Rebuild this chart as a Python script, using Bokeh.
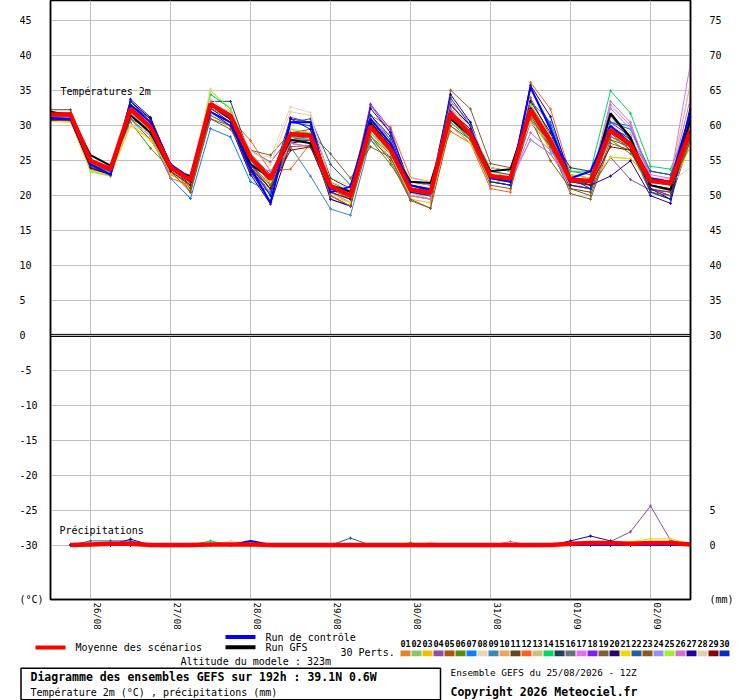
from bokeh.plotting import figure
from bokeh.models import Range1d, LinearAxis, FixedTicker, Span, Label
from bokeh.layouts import column
from bokeh.embed import file_html
from bokeh.resources import INLINE
from bokeh.core.properties import value

# ---------------- data ----------------
hours = [0, 6, 12, 18, 24, 30, 36, 42, 48, 54, 60, 66, 72, 78, 84, 90, 96,
         102, 108, 114, 120, 126, 132, 138, 144, 150, 156, 162, 168, 174, 180, 186, 192]
precip_hours = hours[1:]
day_ticks = [12, 36, 60, 84, 108, 132, 156, 180]
day_labels = ["26/08", "27/08", "28/08", "29/08", "30/08", "31/08", "01/09", "02/09"]
temp_ticks = [-30, -25, -20, -15, -10, -5, 0, 5, 10, 15, 20, 25, 30, 35, 40, 45]
right_ticks = [0, 5, 30, 35, 40, 45, 50, 55, 60, 65, 70, 75]

member_names = ["01", "02", "03", "04", "05", "06", "07", "08", "09", "10",
                "11", "12", "13", "14", "15", "16", "17", "18", "19", "20",
                "21", "22", "23", "24", "25", "26", "27", "28", "29", "30"]
member_colors = ["#e8812e", "#88c46a", "#f0c000", "#8a4fa8", "#b0500a", "#5a8a0a",
                 "#0a80ff", "#e8d8b0", "#3a8ab8", "#e8a858", "#604820", "#ff6020",
                 "#d0c080", "#00d860", "#204058", "#687078", "#e070f0", "#8020f0",
                 "#806030", "#300070", "#f0d800", "#2060a0", "#905820", "#9890f0",
                 "#a0f030", "#d070d0", "#2000a0", "#e0d0b0", "#880000", "#0030c0"]

temp_m01 = [31.2, 31.0, 24.2, 23.0, 32.5, 29.0, 23.5, 21.5, 33.5, 31.5, 25.8, 21.5, 28.0, 28.5, 21.0, 19.5, 30.0, 27.0, 21.0, 20.5, 32.0, 29.0, 22.5, 22.0, 33.0, 27.5, 22.0, 21.8, 29.0, 27.0, 22.0, 21.5, 30.0]
temp_m02 = [31.5, 31.3, 23.6, 22.8, 31.8, 28.8, 23.0, 21.8, 34.5, 32.5, 25.0, 22.5, 29.5, 29.0, 20.5, 19.0, 29.5, 26.0, 20.5, 20.0, 31.5, 28.0, 22.0, 21.5, 32.0, 28.0, 22.5, 22.0, 28.5, 26.5, 21.5, 21.0, 29.0]
temp_m03 = [30.8, 30.6, 24.0, 23.2, 30.2, 28.0, 23.2, 21.0, 32.0, 30.5, 24.5, 21.0, 27.5, 27.0, 20.8, 19.8, 28.5, 25.5, 19.5, 19.0, 30.5, 28.5, 23.5, 22.5, 32.5, 27.0, 22.0, 21.5, 25.5, 25.3, 22.5, 22.0, 27.5]
temp_m04 = [31.6, 31.4, 24.8, 23.5, 32.8, 30.0, 24.0, 22.5, 33.0, 31.5, 26.5, 24.8, 28.5, 27.5, 21.5, 20.5, 33.0, 29.0, 21.5, 21.0, 32.5, 28.5, 22.5, 22.0, 31.0, 27.0, 21.5, 21.0, 25.5, 22.3, 20.8, 20.5, 28.0]
temp_m05 = [31.9, 31.8, 24.5, 23.0, 31.0, 29.5, 24.5, 20.5, 31.5, 30.0, 23.5, 20.5, 29.0, 29.5, 20.0, 18.5, 31.0, 27.5, 21.5, 20.5, 33.0, 30.0, 23.0, 22.0, 34.0, 28.5, 22.5, 22.0, 30.0, 27.5, 21.0, 20.0, 30.5]
temp_m06 = [31.0, 31.2, 24.5, 23.3, 30.5, 26.8, 23.8, 22.0, 32.5, 31.0, 24.0, 21.0, 27.8, 28.0, 22.0, 20.5, 28.0, 24.5, 20.0, 19.5, 31.0, 28.5, 24.0, 23.5, 31.5, 26.5, 23.5, 23.0, 28.0, 26.0, 22.5, 22.0, 27.0]
temp_m07 = [31.3, 31.0, 23.8, 23.0, 31.0, 28.5, 22.5, 19.6, 29.6, 28.4, 22.0, 20.5, 28.5, 29.0, 20.5, 19.5, 29.0, 26.5, 21.0, 20.5, 32.0, 29.5, 23.0, 22.5, 33.5, 30.5, 23.0, 22.5, 30.5, 30.0, 22.5, 22.0, 32.0]
temp_m08 = [31.5, 31.5, 24.5, 23.8, 30.0, 29.0, 24.0, 22.5, 35.3, 32.0, 26.0, 25.5, 32.7, 31.9, 22.5, 21.5, 30.0, 27.5, 22.0, 21.0, 31.5, 29.5, 23.5, 22.8, 30.5, 27.0, 21.5, 21.5, 31.0, 29.0, 21.5, 21.0, 36.5]
temp_m09 = [31.0, 30.8, 24.0, 22.8, 32.0, 29.5, 24.0, 21.5, 31.5, 30.0, 23.0, 21.0, 27.0, 22.8, 18.1, 17.2, 28.0, 25.5, 20.0, 19.5, 30.5, 28.0, 22.5, 22.0, 31.0, 27.5, 22.0, 21.5, 29.5, 28.5, 22.0, 21.5, 29.5]
temp_m10 = [31.8, 31.6, 25.0, 23.6, 31.5, 28.5, 23.0, 22.0, 33.5, 31.0, 25.5, 22.0, 29.0, 28.0, 21.0, 20.0, 30.5, 27.0, 21.5, 20.8, 33.5, 29.0, 23.0, 22.5, 33.0, 28.0, 22.0, 22.0, 29.5, 27.5, 22.0, 22.0, 29.0]
temp_m11 = [32.3, 32.3, 24.0, 23.5, 32.0, 30.0, 24.5, 21.0, 32.0, 30.5, 26.0, 23.0, 28.0, 28.0, 21.5, 20.5, 30.0, 26.5, 20.5, 20.0, 32.0, 28.5, 22.5, 22.0, 32.0, 27.0, 21.0, 20.5, 29.0, 26.5, 21.0, 20.5, 28.5]
temp_m12 = [31.4, 31.2, 24.3, 23.2, 32.5, 30.0, 22.5, 21.5, 32.5, 31.0, 27.9, 23.5, 23.8, 27.5, 21.5, 20.0, 31.5, 29.8, 22.6, 22.0, 29.2, 27.5, 21.0, 20.5, 36.2, 32.4, 23.0, 22.5, 28.5, 27.0, 21.5, 21.0, 29.5]
temp_m13 = [31.2, 31.0, 24.8, 23.5, 31.5, 29.5, 24.5, 22.5, 33.0, 32.0, 26.0, 22.5, 29.0, 28.5, 21.5, 20.0, 29.5, 26.5, 21.5, 21.0, 32.5, 30.0, 23.5, 23.0, 31.5, 28.5, 23.0, 22.5, 30.0, 28.0, 22.5, 22.5, 36.0]
temp_m14 = [31.0, 31.0, 24.0, 23.0, 32.0, 29.5, 23.5, 21.5, 34.5, 32.5, 25.0, 22.0, 28.5, 28.0, 20.5, 19.5, 29.0, 26.0, 20.5, 20.0, 31.0, 28.0, 23.0, 22.5, 32.0, 27.5, 23.5, 23.5, 35.0, 31.8, 24.2, 23.8, 31.0]
temp_m15 = [31.5, 31.5, 25.0, 24.0, 33.0, 31.0, 24.5, 22.5, 33.5, 33.5, 25.5, 22.0, 31.0, 30.5, 22.5, 21.0, 30.5, 27.0, 22.0, 21.5, 31.5, 29.0, 24.0, 23.5, 33.0, 28.5, 24.0, 23.5, 30.0, 28.0, 23.5, 23.0, 30.0]
temp_m16 = [31.2, 31.0, 24.5, 23.5, 32.0, 29.0, 24.0, 22.0, 32.5, 31.0, 25.0, 22.5, 28.0, 28.5, 21.0, 19.5, 28.5, 26.0, 20.5, 20.0, 30.0, 27.5, 22.0, 21.5, 30.5, 27.0, 21.5, 21.0, 28.5, 27.0, 22.0, 21.5, 28.0]
temp_m17 = [31.3, 31.2, 24.5, 23.3, 33.0, 30.5, 24.0, 22.0, 33.0, 31.5, 25.0, 22.0, 27.5, 27.0, 20.5, 19.0, 31.0, 28.0, 20.5, 19.5, 32.5, 29.0, 22.5, 22.0, 28.0, 26.0, 21.5, 21.0, 33.0, 30.0, 23.0, 22.5, 39.0]
temp_m18 = [31.5, 31.4, 24.0, 23.0, 33.5, 31.0, 24.5, 22.0, 32.0, 30.5, 24.5, 20.0, 31.2, 30.5, 19.5, 18.5, 33.1, 29.5, 21.0, 20.5, 31.0, 28.5, 22.5, 22.0, 32.0, 27.5, 22.0, 22.0, 30.5, 28.5, 21.0, 20.0, 31.5]
temp_m19 = [31.8, 31.8, 24.5, 23.5, 31.0, 28.0, 23.5, 22.0, 31.0, 30.0, 26.5, 25.8, 29.0, 29.0, 26.0, 22.5, 27.0, 25.5, 19.5, 18.2, 35.1, 32.4, 24.6, 24.0, 31.5, 27.0, 20.3, 19.5, 27.5, 26.5, 20.5, 19.5, 28.0]
temp_m20 = [31.0, 31.0, 24.0, 23.0, 33.5, 31.0, 24.0, 21.5, 32.0, 30.0, 23.0, 18.8, 27.5, 28.0, 19.5, 18.5, 30.5, 27.0, 20.5, 20.0, 33.0, 30.0, 22.0, 21.5, 33.5, 29.0, 21.5, 21.0, 31.5, 28.5, 21.0, 19.5, 33.0]
temp_m21 = [30.6, 30.5, 23.6, 23.0, 30.0, 28.0, 23.5, 21.5, 32.0, 30.5, 24.0, 21.5, 28.5, 28.5, 20.0, 19.0, 29.5, 26.0, 20.0, 19.5, 30.0, 27.5, 22.0, 22.0, 31.0, 26.5, 22.0, 21.8, 25.5, 25.3, 21.5, 21.0, 27.0]
temp_m22 = [31.2, 31.0, 24.5, 23.3, 32.5, 30.0, 24.5, 22.5, 33.0, 31.5, 24.5, 21.0, 30.5, 31.0, 24.5, 21.5, 31.5, 28.0, 21.0, 20.0, 32.0, 29.0, 23.5, 23.0, 32.5, 28.0, 22.5, 22.0, 30.5, 29.5, 23.5, 23.0, 30.5]
temp_m23 = [31.7, 31.6, 25.0, 24.0, 32.0, 29.5, 23.5, 20.5, 31.0, 29.5, 24.5, 21.5, 27.0, 27.2, 20.0, 18.5, 28.5, 25.0, 19.3, 18.2, 30.0, 28.0, 21.5, 21.0, 31.0, 25.0, 21.0, 20.0, 28.0, 27.0, 20.5, 20.0, 28.5]
temp_m24 = [31.3, 31.3, 24.8, 23.8, 31.5, 29.0, 23.5, 22.0, 32.5, 31.0, 24.5, 23.5, 28.0, 28.0, 21.5, 20.5, 30.0, 27.0, 22.0, 21.5, 31.5, 28.5, 23.0, 22.5, 28.0, 26.0, 22.0, 21.5, 32.5, 29.5, 22.5, 22.0, 30.0]
temp_m25 = [31.0, 30.8, 23.4, 22.8, 32.0, 29.5, 23.5, 21.5, 35.0, 32.5, 25.5, 22.0, 29.5, 29.0, 21.5, 20.0, 29.0, 26.0, 21.0, 20.5, 31.5, 28.5, 23.0, 22.5, 33.0, 28.5, 23.0, 22.5, 29.5, 27.5, 22.5, 22.0, 29.5]
temp_m26 = [31.4, 31.2, 24.3, 23.3, 32.5, 30.5, 24.0, 22.0, 33.5, 31.0, 25.0, 22.5, 27.5, 27.0, 21.0, 20.0, 31.0, 28.5, 20.0, 19.5, 33.5, 30.5, 22.5, 22.0, 29.0, 26.5, 22.0, 22.0, 33.5, 30.5, 22.5, 22.0, 34.0]
temp_m27 = [31.2, 31.0, 24.5, 23.0, 33.8, 31.2, 24.5, 22.0, 32.0, 30.5, 23.5, 19.0, 31.0, 29.5, 21.0, 20.0, 32.5, 29.0, 21.5, 21.0, 34.5, 30.5, 22.5, 22.0, 35.8, 31.3, 22.5, 21.5, 22.8, 25.0, 20.0, 18.9, 31.5]
temp_m28 = [31.5, 31.5, 24.8, 23.8, 30.2, 29.0, 24.5, 22.8, 34.0, 31.5, 26.5, 24.5, 32.0, 31.5, 22.0, 21.0, 29.5, 27.0, 22.5, 22.0, 32.0, 30.0, 24.0, 23.5, 30.5, 27.5, 22.5, 22.0, 30.0, 28.5, 22.5, 22.0, 24.0]
temp_m29 = [30.8, 30.8, 24.0, 23.0, 31.5, 29.0, 23.5, 21.5, 32.5, 30.5, 24.0, 21.0, 26.5, 27.0, 20.5, 19.5, 29.5, 26.5, 21.0, 20.5, 32.0, 29.5, 23.0, 22.5, 32.5, 28.0, 22.0, 21.5, 27.0, 26.5, 21.5, 21.0, 29.0]
temp_m30 = [31.0, 30.8, 24.3, 23.0, 33.5, 30.5, 24.5, 22.0, 33.0, 31.0, 24.0, 20.0, 30.5, 30.0, 21.0, 20.0, 31.5, 28.5, 21.0, 20.5, 34.0, 30.0, 22.0, 21.5, 35.5, 30.0, 22.5, 21.0, 31.5, 28.0, 20.5, 19.5, 31.0]
temp_ctrl = [31.0, 31.0, 24.5, 23.0, 33.0, 30.5, 24.5, 22.5, 32.0, 30.5, 24.0, 19.0, 30.5, 30.5, 20.5, 21.3, 31.0, 27.5, 21.5, 20.8, 31.5, 29.0, 22.5, 22.0, 35.5, 29.5, 22.5, 23.5, 30.0, 27.5, 22.5, 22.0, 32.0]
temp_gfs = [32.0, 31.5, 25.8, 24.3, 31.5, 29.0, 23.8, 22.8, 33.0, 31.0, 24.5, 22.5, 28.0, 27.5, 21.5, 20.6, 30.5, 27.0, 22.0, 21.8, 31.0, 28.5, 23.5, 23.8, 32.5, 28.0, 22.5, 22.0, 31.8, 28.3, 21.5, 20.8, 31.0]
temp_mean = [31.6, 31.6, 25.0, 23.8, 32.4, 29.8, 24.1, 22.2, 33.1, 31.4, 25.5, 22.4, 28.8, 28.6, 21.4, 20.0, 29.9, 26.6, 20.9, 20.4, 31.8, 28.7, 22.8, 22.5, 32.3, 27.8, 22.3, 22.1, 29.4, 27.3, 22.1, 21.8, 29.4]

# 6-hourly precipitation (mm), 6h .. 192h
prec_m01 = [0, 0, 0, 0, 0, 0, 0, 0, 0, 0, 0, 0, 0, 0, 0, 0, 0, 0, 0, 0, 0, 0, 0, 0, 0, 0, 0, 0.3, 0, 0, 0, 0]
prec_m02 = [0, 0, 0, 0, 0, 0, 0, 0, 0, 0, 0, 0, 0, 0, 0, 0, 0, 0, 0, 0, 0, 0, 0, 0, 0, 0, 0, 0, 0, 0, 0, 0]
prec_m03 = [0, 0, 0, 0, 0, 0, 0, 0, 0, 0, 0, 0, 0, 0, 0, 0, 0, 0, 0, 0, 0, 0, 0, 0, 0, 0, 0, 0, 0, 0.2, 0.3, 0]
prec_m04 = [0, 0, 0, 0, 0, 0, 0, 0, 0, 0, 0, 0, 0, 0, 0, 0, 0, 0, 0, 0, 0, 0, 0, 0, 0, 0, 0, 0.5, 1.9, 5.6, 0.7, 0]
prec_m05 = [0, 0, 0, 0, 0, 0, 0, 0, 0, 0, 0, 0, 0, 0, 0, 0, 0, 0, 0, 0, 0, 0, 0, 0, 0, 0, 0, 0, 0, 0, 0, 0]
prec_m06 = [0, 0, 0, 0, 0, 0, 0, 0, 0, 0, 0, 0, 0, 0, 0, 0, 0, 0.3, 0, 0, 0, 0, 0, 0, 0, 0, 0, 0, 0, 0, 0, 0]
prec_m07 = [0, 0, 0, 0, 0, 0, 0, 0, 0, 0, 0, 0, 0, 0, 0, 0, 0, 0, 0, 0, 0, 0, 0, 0, 0, 0, 0, 0, 0, 0, 0, 0]
prec_m08 = [0, 0, 0, 0, 0, 0, 0, 0, 0.6, 0.3, 0, 0, 0, 0, 0, 0, 0, 0, 0, 0, 0, 0, 0, 0, 0, 0, 0, 0, 0, 0, 0, 0]
prec_m09 = [0, 0, 0, 0, 0, 0, 0, 0, 0, 0, 0, 0, 0, 0, 0, 0, 0, 0, 0, 0, 0, 0, 0, 0, 0, 0, 0, 0, 0, 0, 0, 0]
prec_m10 = [0, 0, 0, 0, 0, 0, 0, 0, 0, 0, 0, 0, 0, 0, 0, 0, 0, 0, 0, 0, 0, 0, 0, 0, 0, 0, 0.4, 0, 0, 0, 0, 0]
prec_m11 = [0, 0, 0, 0, 0, 0, 0, 0, 0, 0, 0, 0, 0, 0, 0, 0, 0, 0, 0, 0, 0, 0, 0, 0, 0, 0, 0, 0, 0, 0, 0, 0]
prec_m12 = [0, 0, 0, 0, 0, 0, 0, 0, 0, 0, 0, 0, 0, 0, 0, 0, 0, 0, 0, 0, 0, 0, 0, 0, 0, 0.2, 0, 0, 0, 0, 0, 0]
prec_m13 = [0, 0, 0, 0, 0, 0, 0, 0, 0, 0, 0, 0, 0, 0, 0, 0, 0, 0, 0, 0, 0, 0, 0, 0, 0, 0, 0, 0, 0, 0, 0, 0]
prec_m14 = [0, 0, 0, 0, 0, 0, 0, 0.6, 0, 0, 0, 0, 0, 0, 0, 0, 0, 0, 0, 0, 0, 0, 0, 0, 0, 0, 0, 0, 0, 0, 0, 0]
prec_m15 = [0, 0, 0, 0, 0, 0, 0, 0, 0, 0, 0, 0, 0, 0, 0, 0, 0, 0, 0, 0, 0, 0, 0, 0, 0, 0, 0, 0, 0, 0, 0, 0]
prec_m16 = [0, 0, 0, 0, 0, 0, 0, 0, 0, 0, 0, 0, 0, 0, 0, 0, 0, 0, 0, 0, 0, 0, 0, 0, 0, 0, 0, 0, 0, 0, 0, 0]
prec_m17 = [0, 0, 0.3, 0.4, 0, 0, 0, 0, 0, 0, 0, 0, 0, 0, 0, 0, 0, 0, 0, 0, 0, 0, 0, 0, 0, 0, 0.2, 0, 0, 0, 0, 0]
prec_m18 = [0, 0, 0, 0, 0, 0, 0, 0, 0, 0, 0, 0, 0, 0, 0, 0, 0, 0, 0, 0, 0, 0, 0, 0, 0, 0, 0, 0, 0, 0, 0, 0]
prec_m19 = [0, 0, 0, 0, 0, 0, 0, 0, 0, 0, 0, 0, 0, 0, 0, 0, 0, 0, 0, 0, 0, 0, 0, 0, 0, 0, 0.4, 0.3, 0, 0, 0, 0]
prec_m20 = [0, 0, 0, 0, 0, 0, 0, 0, 0, 0, 0, 0, 0, 0, 0, 0, 0, 0, 0, 0, 0, 0, 0, 0, 0, 0, 0, 0, 0, 0, 0, 0]
prec_m21 = [0, 0, 0, 0, 0, 0, 0, 0, 0, 0, 0, 0, 0, 0, 0, 0, 0, 0, 0, 0, 0, 0, 0, 0, 0, 0, 0, 0, 0.5, 0.9, 0.9, 0.2]
prec_m22 = [0, 0.6, 0.6, 0.6, 0, 0, 0, 0, 0, 0, 0, 0, 0, 0, 1.0, 0, 0, 0, 0, 0, 0, 0, 0, 0, 0, 0, 0, 0, 0, 0, 0, 0]
prec_m23 = [0, 0, 0, 0, 0, 0, 0, 0, 0, 0, 0, 0, 0, 0, 0, 0, 0, 0, 0, 0, 0, 0, 0, 0, 0, 0, 0, 0, 0, 0, 0, 0]
prec_m24 = [0, 0, 0, 0, 0, 0, 0, 0, 0, 0, 0, 0, 0, 0, 0, 0, 0, 0, 0, 0, 0, 0, 0, 0, 0, 0, 0, 0, 0, 0, 0, 0]
prec_m25 = [0, 0, 0, 0, 0, 0, 0, 0, 0, 0, 0, 0, 0, 0, 0, 0, 0, 0, 0, 0, 0, 0, 0, 0, 0, 0, 0, 0, 0, 0, 0, 0]
prec_m26 = [0, 0, 0, 0, 0, 0, 0, 0, 0, 0, 0, 0, 0, 0, 0, 0, 0, 0, 0, 0, 0, 0, 0.5, 0, 0, 0, 0, 0, 0, 0, 0, 0]
prec_m27 = [0, 0, 0, 0.85, 0, 0, 0, 0, 0, 0, 0, 0, 0, 0, 0, 0, 0, 0, 0, 0, 0, 0, 0, 0, 0, 0.6, 1.3, 0.6, 0, 0, 0, 0]
prec_m28 = [0, 0, 0, 0, 0, 0, 0, 0, 0, 0, 0, 0, 0, 0, 0, 0, 0, 0, 0.4, 0, 0, 0, 0, 0, 0, 0, 0, 0, 0, 0, 0, 0]
prec_m29 = [0, 0, 0, 0, 0, 0, 0, 0, 0, 0, 0, 0, 0, 0, 0, 0, 0, 0, 0, 0, 0, 0, 0, 0, 0, 0, 0, 0, 0, 0, 0, 0]
prec_m30 = [0, 0, 0, 0, 0, 0, 0, 0, 0, 0, 0, 0, 0, 0, 0, 0, 0, 0, 0, 0, 0, 0, 0, 0, 0, 0, 0, 0, 0, 0, 0, 0]
prec_ctrl = [0, 0, 0.3, 0, 0, 0, 0, 0, 0, 0.6, 0, 0, 0, 0, 0, 0, 0, 0, 0, 0, 0, 0, 0, 0, 0, 0, 0, 0, 0, 0, 0, 0]
prec_gfs = [0, 0, 0, 0, 0, 0, 0, 0, 0, 0, 0, 0, 0, 0, 0, 0, 0, 0, 0, 0, 0, 0, 0, 0, 0, 0, 0, 0, 0, 0, 0, 0]
prec_mean = [0, 0.1, 0.2, 0.2, 0, 0, 0, 0.1, 0.1, 0.1, 0, 0, 0, 0, 0, 0, 0, 0, 0, 0, 0, 0, 0, 0, 0, 0.2, 0.3, 0.3, 0.2, 0.3, 0.3, 0.1]

temp_members = [temp_m01, temp_m02, temp_m03, temp_m04, temp_m05, temp_m06, temp_m07, temp_m08,
                temp_m09, temp_m10, temp_m11, temp_m12, temp_m13, temp_m14, temp_m15, temp_m16,
                temp_m17, temp_m18, temp_m19, temp_m20, temp_m21, temp_m22, temp_m23, temp_m24,
                temp_m25, temp_m26, temp_m27, temp_m28, temp_m29, temp_m30]
prec_members = [prec_m01, prec_m02, prec_m03, prec_m04, prec_m05, prec_m06, prec_m07, prec_m08,
                prec_m09, prec_m10, prec_m11, prec_m12, prec_m13, prec_m14, prec_m15, prec_m16,
                prec_m17, prec_m18, prec_m19, prec_m20, prec_m21, prec_m22, prec_m23, prec_m24,
                prec_m25, prec_m26, prec_m27, prec_m28, prec_m29, prec_m30]

FONT = "DejaVu Sans Mono"
NB = "\u00a0"

# ---------------- main chart ----------------
y_hi = 47.93
y_lo = y_hi - 600 / 7.0
unit_tick_lo = y_lo + 0.05           # where the unit captions sit
p = figure(width=740, height=632, output_backend="svg", toolbar_location=None,
           x_range=Range1d(0, 192), y_range=Range1d(y_lo, y_hi),
           min_border_left=50, min_border_right=50, min_border_top=0, min_border_bottom=32,
           outline_line_color="black", outline_line_width=1.5,
           background_fill_color="white", border_fill_color="white")
p.extra_y_ranges = {"right": Range1d(y_lo + 30, y_hi + 30)}

# left axis (labels padded so they read left-aligned)
left_overrides = {t: (str(t) + NB * 4)[:4] for t in temp_ticks}
left_overrides[unit_tick_lo] = "(°C)"
ya = p.yaxis[0]
ya.ticker = FixedTicker(ticks=[unit_tick_lo] + temp_ticks)
ya.major_label_overrides = left_overrides
ya.major_label_text_font = FONT
ya.major_label_text_font_size = "10px"
ya.major_label_text_color = "black"
ya.major_label_standoff = 7
ya.major_tick_in = 0
ya.major_tick_out = 0
ya.minor_tick_in = 0
ya.minor_tick_out = 0
ya.axis_line_color = "black"
ya.axis_line_width = 1.5

# right axis
ra = LinearAxis(y_range_name="right", ticker=FixedTicker(ticks=[unit_tick_lo + 30] + right_ticks))
ra.major_label_overrides = {unit_tick_lo + 30: "(mm)"}
ra.major_label_text_font = FONT
ra.major_label_text_font_size = "10px"
ra.major_label_text_color = "black"
ra.major_label_standoff = 19
ra.major_tick_in = 0
ra.major_tick_out = 0
ra.minor_tick_in = 0
ra.minor_tick_out = 0
ra.axis_line_color = "black"
ra.axis_line_width = 1.5
p.add_layout(ra, "right")

# bottom axis: date labels sit just right of the day grid lines
label_ticks = [d + 2 for d in day_ticks]
xa = p.xaxis[0]
xa.ticker = FixedTicker(ticks=label_ticks)
xa.major_label_overrides = dict(zip(label_ticks, day_labels))
xa.major_label_orientation = "vertical"
xa.major_label_text_font = FONT
xa.major_label_text_font_size = "9px"
xa.major_label_text_color = "black"
xa.major_label_standoff = 3
xa.major_tick_in = 0
xa.major_tick_out = 0
xa.minor_tick_in = 0
xa.minor_tick_out = 0
xa.axis_line_color = "black"
xa.axis_line_width = 1.5

p.xgrid.ticker = FixedTicker(ticks=day_ticks)
p.ygrid.ticker = FixedTicker(ticks=temp_ticks)
p.xgrid.grid_line_color = "#c0c0c0"
p.ygrid.grid_line_color = "#c0c0c0"

# panel separator (double line at 0)
p.add_layout(Span(location=0.15, dimension="width", line_color="black", line_width=1))
p.add_layout(Span(location=-0.15, dimension="width", line_color="black", line_width=1))

# members
for vals, c in zip(temp_members, member_colors):
    p.line(hours, vals, line_color=c, line_width=1)
    p.scatter(hours, vals, marker="cross", size=3, line_color=c, line_width=1)
for vals, c in zip(prec_members, member_colors):
    p.line(precip_hours, vals, line_color=c, line_width=1, y_range_name="right")
    p.scatter(precip_hours, vals, marker="cross", size=3, line_color=c, line_width=1,
              y_range_name="right")

p.line(hours, temp_gfs, line_color="black", line_width=2)
p.line(precip_hours, prec_gfs, line_color="black", line_width=2, y_range_name="right")
p.line(hours, temp_ctrl, line_color="#0000ff", line_width=2)
p.line(precip_hours, prec_ctrl, line_color="#0000ff", line_width=2, y_range_name="right")
p.line(hours, temp_mean, line_color="#ff0000", line_width=4.5)
p.line(precip_hours, prec_mean, line_color="#ff0000", line_width=4.5, y_range_name="right")

lab_kw = dict(text_font=FONT, text_font_size="10px", text_color="black",
              text_baseline="middle", text_align="left")
p.add_layout(Label(x=3, y=34.9, text="Températures 2m", **lab_kw))
p.add_layout(Label(x=2.7, y=-27.9, text="Précipitations", **lab_kw))

# ---------------- legend / footer ----------------
q = figure(width=740, height=68, output_backend="svg", toolbar_location=None,
           x_range=Range1d(0, 740), y_range=Range1d(68, 0),
           x_axis_type=None, y_axis_type=None, min_border=0,
           min_border_left=0, min_border_right=0, min_border_top=0, min_border_bottom=0,
           outline_line_color=None, background_fill_color="white", border_fill_color="white")
q.grid.visible = False

# keep the two canvases independent (no frame alignment between them)
for fig in (p, q):
    if "frame_align" in fig.properties():
        fig.frame_align = False

q.segment(x0=[35], y0=[15.0], x1=[65], y1=[15.0], line_color="#ff0000", line_width=4)
q.segment(x0=[225], y0=[4.6], x1=[255], y1=[4.6], line_color="#0000ff", line_width=4)
q.segment(x0=[225], y0=[14.8], x1=[255], y1=[14.8], line_color="black", line_width=4)

txt = dict(text_font=value(FONT), text_color="black", text_baseline="middle", text_align="left")
q.text(x=[75], y=[14.8], text=["Moyenne des scénarios"], text_font_size="10px", **txt)
q.text(x=[265], y=[4.8], text=["Run de contrôle"], text_font_size="10px", **txt)
q.text(x=[265], y=[14.8], text=["Run GFS"], text_font_size="10px", **txt)
q.text(x=[340], y=[20.2], text=["30 Perts."], text_font_size="10px", **txt)
q.text(x=[180], y=[28.7], text=["Altitude du modele : 323m"], text_font_size="10px", **txt)

box_left = [400 + 11 * i for i in range(30)]
q.quad(left=box_left, right=[b + 10 for b in box_left], top=[18.0] * 30, bottom=[23.8] * 30,
       fill_color=member_colors, line_color=None)
q.text(x=[b + 5 for b in box_left], y=[11.3] * 30, text=member_names,
       text_font=value(FONT), text_font_size="8.5px", text_font_style="bold",
       text_color="black", text_baseline="middle", text_align="center")

q.quad(left=[20.5], right=[440], top=[35.7], bottom=[67.2], fill_color=None,
       line_color="black", line_width=1.5)
q.text(x=[30], y=[44.7], text=["Diagramme des ensembles GEFS sur 192h : 39.1N 0.6W"],
       text_font_size="11.5px", text_font_style="bold", **txt)
q.text(x=[30], y=[59.5], text=["Température 2m (°C) , précipitations (mm)"],
       text_font_size="10px", **txt)
q.text(x=[450], y=[39.7], text=["Ensemble GEFS du 25/08/2026 - 12Z"],
       text_font_size="9.4px", **txt)
q.text(x=[450], y=[59.5], text=["Copyright 2026 Meteociel.fr"],
       text_font_size="11.5px", text_font_style="bold", **txt)

layout = column(p, q)
open("out.html", "w").write(file_html(layout, INLINE))
